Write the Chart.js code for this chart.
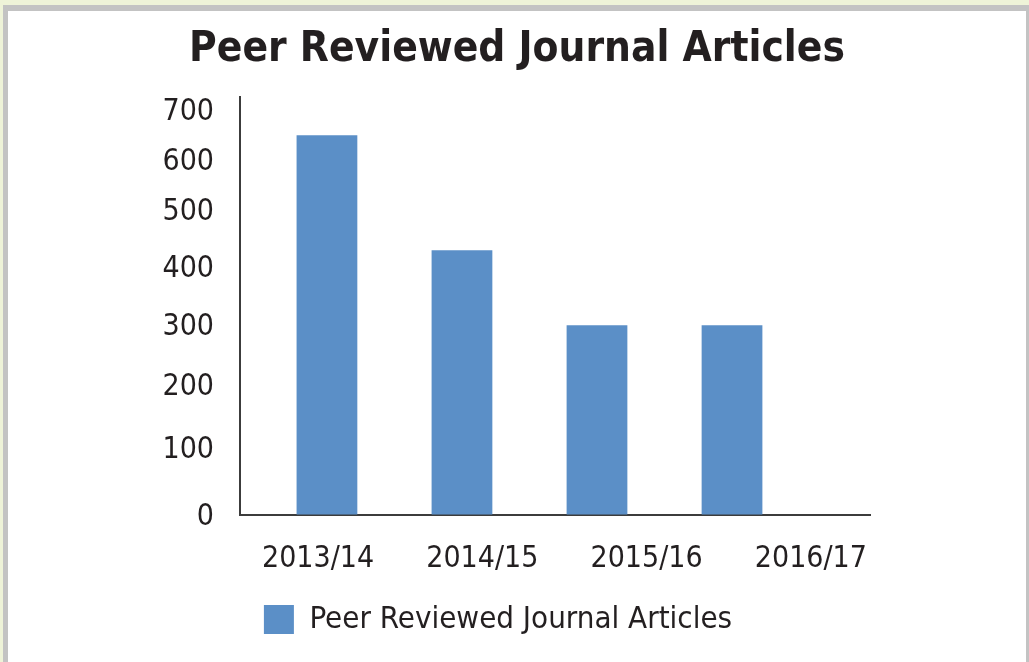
<!DOCTYPE html>
<html>
<head>
<meta charset="utf-8">
<script src="https://cdn.jsdelivr.net/npm/chart.js@4"></script>
<style>
    html, body { margin: 0; overflow: hidden; background: #eef3d8; }
    #frame {
        position: absolute; left: 3px; top: 5px;
        width: 1018px; height: 651px;
        background: #fff;
        border: 5px solid #c3c3c3; border-top-width: 6px; border-bottom: none;
    }
</style>
</head>
<body>
<div id="frame"><canvas id="chart" width="1018" height="651"></canvas></div>
<script>
// Chart data
const years = ['2013/14', '2014/15', '2015/16', '2016/17'];
const articles = [650, 430, 300, 300];
const yTicks = [0, 100, 200, 300, 400, 500, 600, 700];

const seriesName = 'Peer Reviewed Journal Articles';
const barColor = '#5b8fc7';
const textColor = '#231f20';
const axisColor = '#3c3c3c';
const fontFamily = "'DejaVu Sans Condensed', 'DejaVu Sans', sans-serif";

// The original value axis is not evenly spaced, so map value -> share of axis height
const yAxisStops = [
    [0, 0], [100, 0.1603], [200, 0.3110], [300, 0.4545],
    [400, 0.5933], [500, 0.7297], [600, 0.8493], [700, 0.9689], [726, 1]
];

class WarpedScale extends Chart.LinearScale {
    getPixelForValue(value) {
        if (value === null || isNaN(value)) return NaN;
        const s = yAxisStops;
        let f = s[s.length - 1][1];
        if (value <= s[0][0]) {
            f = s[0][1];
        } else {
            for (let i = 1; i < s.length; i++) {
                if (value <= s[i][0]) {
                    const [v0, f0] = s[i - 1];
                    const [v1, f1] = s[i];
                    f = f0 + (value - v0) / (v1 - v0) * (f1 - f0);
                    break;
                }
            }
        }
        return this.getPixelForDecimal(f);
    }
    getValueForPixel(pixel) {
        const f = this.getDecimalForPixel(pixel);
        const s = yAxisStops;
        for (let i = 1; i < s.length; i++) {
            if (f <= s[i][1]) {
                const [v0, f0] = s[i - 1];
                const [v1, f1] = s[i];
                return v0 + (f - f0) / (f1 - f0) * (v1 - v0);
            }
        }
        return s[s.length - 1][0];
    }
}
WarpedScale.id = 'warped';
WarpedScale.defaults = Chart.LinearScale.defaults;
Chart.register(WarpedScale);

// Legend sits a little left of centre in the original
const legendShift = {
    id: 'legendShift',
    afterLayout(chart) {
        chart.legend.left -= 19;
        chart.legend.right -= 19;
    }
};

// In the original the bars and the year labels are spaced differently,
// so the bars use their own hidden index axis
const barPoints = years.map((_, i) => ({ x: i, y: articles[i] }));
const indexTicks = s => { s.ticks = years.map((_, i) => ({ value: i })); };

const ctx = document.getElementById('chart').getContext('2d');
new Chart(ctx, {
    type: 'bar',
    data: {
        datasets: [{
            label: seriesName,
            data: barPoints,
            xAxisID: 'xBars',
            backgroundColor: barColor,
            borderWidth: 0,
            categoryPercentage: 1,
            barPercentage: 0.45
        }]
    },
    plugins: [legendShift],
    options: {
        responsive: false,
        animation: false,
        layout: { padding: { top: 0, bottom: 17, left: 0, right: 0 } },
        plugins: {
            title: {
                display: true,
                text: seriesName,
                color: textColor,
                font: { family: fontFamily, size: 42, weight: 'bold' },
                padding: { top: 14, bottom: 22 }
            },
            legend: {
                position: 'bottom',
                labels: {
                    color: textColor,
                    font: { family: fontFamily, size: 31 },
                    boxWidth: 30,
                    boxHeight: 29,
                    padding: 10
                }
            },
            tooltip: { enabled: false }
        },
        scales: {
            x: {
                type: 'linear',
                offset: false,
                min: -0.475,
                max: 3.36,
                grid: { display: true, offset: false, color: 'rgba(0,0,0,0)', drawTicks: false },
                border: { display: true, color: axisColor, width: 2 },
                ticks: {
                    color: textColor,
                    font: { family: fontFamily, size: 30 },
                    padding: 26,
                    maxRotation: 0,
                    autoSkip: false,
                    callback: v => years[v]
                },
                afterBuildTicks: indexTicks,
                afterFit: s => { s.height = 79; }
            },
            xBars: {
                type: 'linear',
                position: 'bottom',
                display: false,
                offset: false,
                grid: { offset: false },
                min: -0.644,
                max: 4.022,
                afterBuildTicks: indexTicks
            },
            y: {
                type: 'warped',
                min: 0,
                max: 726,
                grid: { display: true, color: 'rgba(0,0,0,0)', drawTicks: false },
                border: { display: true, color: axisColor, width: 2 },
                ticks: {
                    color: textColor,
                    font: { family: fontFamily, size: 30 },
                    padding: 26,
                    labelOffset: 2
                },
                afterBuildTicks: s => { s.ticks = yTicks.map(v => ({ value: v })); },
                afterFit: s => { s.width = 232; }
            },
            yRight: {
                type: 'linear',
                position: 'right',
                display: true,
                grid: { display: false },
                border: { display: false },
                ticks: { display: false },
                afterFit: s => { s.width = 156; }
            }
        }
    }
});
</script>
</body>
</html>
